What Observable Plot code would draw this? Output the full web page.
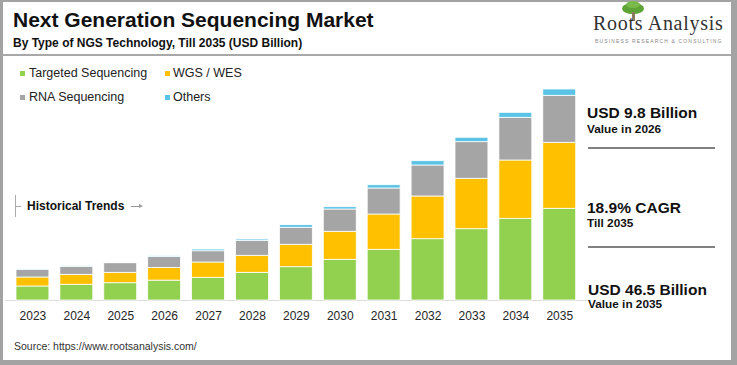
<!DOCTYPE html>
<html>
<head>
<meta charset="utf-8">
<script src="https://cdn.jsdelivr.net/npm/d3@7"></script>
<script src="https://cdn.jsdelivr.net/npm/@observablehq/plot@0.6"></script>
<style>
  html, body { margin: 0; padding: 0; background: #fff; }
  #fig { position: relative; width: 737px; height: 365px; overflow: hidden; background: #fff;
         font-family: "Liberation Sans", Arial, sans-serif; color: #111; }
  .abs { position: absolute; white-space: nowrap; }
  .bd { position: absolute; background: #a3a3a3; }
  .lg-sq { position: absolute; width: 5px; height: 5px; }
  .lg-tx { position: absolute; font-size: 12.5px; color: #222; line-height: 1; }
  .big { font-weight: bold; font-size: 15.5px; line-height: 1; color: #111; }
  .small { font-weight: bold; font-size: 11.8px; line-height: 1; color: #111; }
  #chart { position: absolute; left: 0; top: 60px; }
</style>
</head>
<body>
<div id="fig">
  <!-- frame -->
  <div class="bd" style="left:0;top:0;width:737px;height:2px"></div>
  <div class="bd" style="left:0;top:0;width:3px;height:365px"></div>
  <div class="bd" style="left:731px;top:0;width:6px;height:365px"></div>
  <div class="bd" style="left:0;top:360px;width:737px;height:5px"></div>
  <div class="bd" style="left:3px;top:54px;width:728px;height:2px;background:#a8a8a8"></div>

  <!-- title -->
  <div class="abs" style="left:13px;top:8.5px;font-size:21px;font-weight:bold;line-height:1;color:#111">Next Generation Sequencing Market</div>
  <div class="abs" style="left:13px;top:37px;font-size:12px;font-weight:bold;line-height:1;color:#111">By Type of NGS Technology, Till 2035 (USD Billion)</div>

  <!-- logo -->
  <div class="abs" style="left:622px;top:3px;width:22px;height:11px;border-radius:50%;background:#5ea336"></div>
  <div class="abs" style="left:626px;top:1px;width:14px;height:7px;border-radius:50%;background:#79bb4a"></div>
  <div class="abs" style="left:632px;top:12px;width:3px;height:9px;background:#8a7b5e"></div>
  <div class="abs" style="left:593px;top:12px;font-family:'Liberation Serif','DejaVu Serif',serif;font-size:20px;letter-spacing:0.7px;line-height:1.1;color:#333">Roots Analysis</div>
  <div class="abs" style="left:595px;top:39px;font-size:5px;letter-spacing:1.15px;color:#888;line-height:1">BUSINESS RESEARCH &amp; CONSULTING</div>

  <!-- legend -->
  <div class="lg-sq" style="left:20px;top:71px;background:#92d050"></div>
  <div class="lg-tx" style="left:29px;top:67px">Targeted Sequencing</div>
  <div class="lg-sq" style="left:165px;top:71px;background:#ffc000"></div>
  <div class="lg-tx" style="left:173px;top:67px">WGS / WES</div>
  <div class="lg-sq" style="left:20px;top:95px;background:#a5a5a5"></div>
  <div class="lg-tx" style="left:29px;top:91px">RNA Sequencing</div>
  <div class="lg-sq" style="left:165px;top:95px;background:#5bc3e6"></div>
  <div class="lg-tx" style="left:173px;top:91px">Others</div>

  <!-- historical trends -->
  <div class="abs" style="left:15px;top:195px;width:1px;height:22px;background:#aaa"></div>
  <div class="abs" style="left:15px;top:206px;width:6px;height:1px;background:#aaa"></div>
  <div class="abs" style="left:27px;top:200px;font-size:12px;font-weight:bold;line-height:1;color:#111">Historical Trends</div>
  <div class="abs" style="left:131px;top:199.5px;width:10px;height:1px;background:#999;top:206px"></div>
  <div class="abs" style="left:139px;top:204px;width:0;height:0;border-top:2.5px solid transparent;border-bottom:2.5px solid transparent;border-left:4px solid #999"></div>

  <!-- right panel -->
  <div class="abs big" style="left:587px;top:105px">USD 9.8 Billion</div>
  <div class="abs small" style="left:587px;top:124px">Value in 2026</div>
  <div class="abs" style="left:588px;top:147px;width:127px;height:2px;background:#808080"></div>
  <div class="abs big" style="left:587px;top:199.5px">18.9% CAGR</div>
  <div class="abs small" style="left:587px;top:218px">Till 2035</div>
  <div class="abs" style="left:588px;top:246px;width:127px;height:2px;background:#808080"></div>
  <div class="abs big" style="left:588px;top:282px">USD 46.5 Billion</div>
  <div class="abs small" style="left:588px;top:298.5px">Value in 2035</div>

  <!-- source -->
  <div class="abs" style="left:14px;top:341px;font-size:10.5px;line-height:1;color:#333">Source: https://www.rootsanalysis.com/</div>

  <div id="chart"></div>
</div>
<script>
const years = [2023, 2024, 2025, 2026, 2027, 2028, 2029, 2030, 2031, 2032, 2033, 2034, 2035];
const targeted = [3.09, 3.46, 3.81, 4.38, 5.00, 6.10, 7.34, 8.97, 11.17, 13.51, 15.71, 18.00, 20.21];
const wgs      = [1.98, 2.20, 2.29, 2.80, 3.37, 3.75, 4.94, 6.17, 7.78, 9.41, 11.11, 12.85, 14.54];
const rna      = [1.70, 1.76, 2.12, 2.38, 2.49, 3.31, 3.75, 4.91, 5.73, 6.83, 8.07, 9.41, 10.36];
const others   = [0.18, 0.13, 0.15, 0.24, 0.37, 0.29, 0.57, 0.51, 0.73, 0.95, 0.97, 1.10, 1.39];
const seriesNames = ["Targeted Sequencing", "WGS / WES", "RNA Sequencing", "Others"];
const seriesColors = ["#92d050", "#ffc000", "#a5a5a5", "#5bc3e6"];

const seriesValues = [targeted, wgs, rna, others];
const data = [];
years.forEach((yr, i) => {
  seriesNames.forEach((name, j) => {
    data.push({year: String(yr), type: name, value: seriesValues[j][i]});
  });
});

const chart = Plot.plot({
  width: 737,
  height: 270,
  marginTop: 13.1,
  marginBottom: 30,
  marginLeft: 5,
  marginRight: 150.3,
  style: {background: "transparent", fontFamily: "'Liberation Sans', Arial, sans-serif", fontSize: "12px", color: "#262626"},
  x: {domain: years.map(String), padding: 0.25, round: false, label: null, tickSize: 0, tickPadding: 10.5},
  y: {domain: [0, 50], axis: null},
  color: {domain: seriesNames, range: seriesColors},
  marks: [
    Plot.ruleY([0], {stroke: "#dcdcdc", strokeWidth: 1}),
    Plot.barY(data, {x: "year", y: "value", fill: "type", stroke: "white", strokeWidth: 0.8})
  ]
});
document.getElementById("chart").appendChild(chart);
</script>
</body>
</html>
